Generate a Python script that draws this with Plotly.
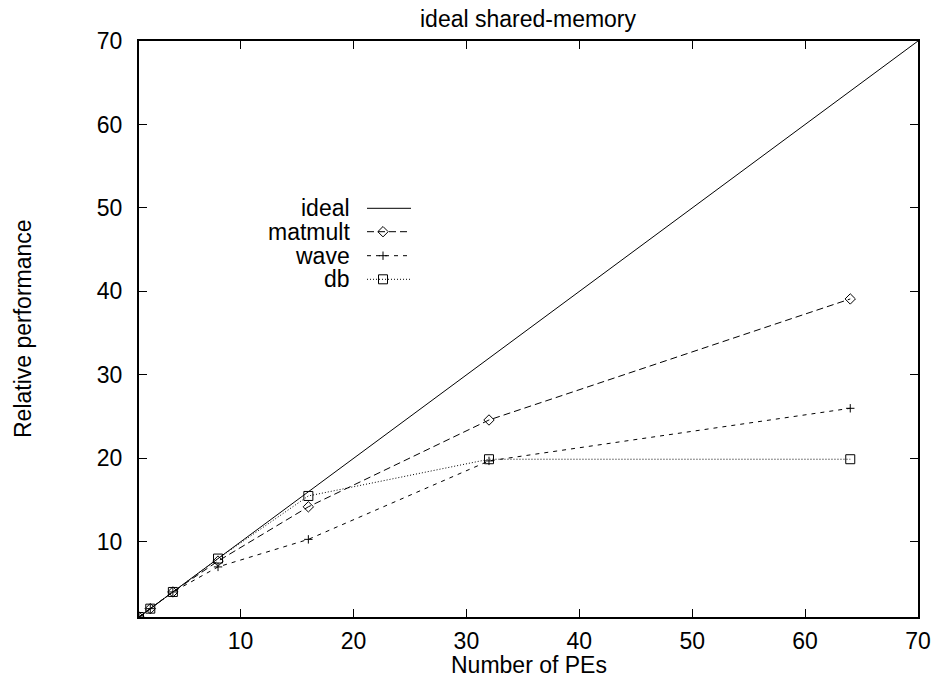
import plotly.graph_objects as go

# ---- data ----
pes = [1, 2, 4, 8, 16, 32, 64]
ideal_x = [1, 70]
ideal_y = [1, 70]
matmult = [1, 2, 4, 7.7, 14.2, 24.6, 39.1]
wave = [1, 2, 4, 7.0, 10.3, 19.7, 26.0]
db = [1, 2, 4, 8.0, 15.5, 19.9, 19.9]
x_ticks = [10, 20, 30, 40, 50, 60, 70]
y_ticks = [10, 20, 30, 40, 50, 60, 70]
series_names = ["ideal", "matmult", "wave", "db"]

FONT = "Liberation Sans, Arial, Helvetica, sans-serif"
FS = 23
W, H = 934, 677
# plot area in page pixels
PX0, PX1, PY0, PY1 = 139, 918, 41, 617
L, T = PX0, PY0
R = W - PX1
B = H - PY1
PW, PH = PX1 - PX0, PY1 - PY0


def px_x(px):
    return (px - PX0) / PW


def px_y(py):
    return (PY1 - py) / PH


fig = go.Figure()

fig.add_trace(go.Scatter(x=ideal_x, y=ideal_y, mode="lines",
                         line=dict(color="black", width=1), name="ideal",
                         showlegend=False))
fig.add_trace(go.Scatter(x=pes, y=matmult, mode="lines+markers",
                         line=dict(color="black", width=1, dash="7px,4px"),
                         marker=dict(symbol="diamond-open", size=8, color="black",
                                     line=dict(width=1, color="black")),
                         name="matmult", showlegend=False))
fig.add_trace(go.Scatter(x=pes, y=wave, mode="lines+markers",
                         line=dict(color="black", width=1, dash="4px,5px"),
                         marker=dict(symbol="cross-thin-open", size=6, color="black",
                                     line=dict(width=1, color="black")),
                         name="wave", showlegend=False))
fig.add_trace(go.Scatter(x=pes, y=db, mode="lines+markers",
                         line=dict(color="black", width=1, dash="1px,2px"),
                         marker=dict(symbol="square-open", size=9, color="black",
                                     line=dict(width=1, color="black")),
                         name="db", showlegend=False))

# ---- manual gnuplot-style key (text left, sample right) ----
key_rows_px = [208.3, 231.7, 255.7, 279.3]
key_text_right = px_x(352)
sample_x0, sample_x1, sample_mark = px_x(367), px_x(411), px_x(383)
styles = [
    (None, "solid"),
    ("diamond-open", "7px,4px"),
    ("cross-thin-open", "4px,5px"),
    ("square-open", "1px,2px"),
]
sizes = [0, 8, 6, 9]
for name, ypx, (sym, dash), sz in zip(series_names, key_rows_px, styles, sizes):
    yy = px_y(ypx)
    fig.add_annotation(x=key_text_right, y=yy, xref="paper", yref="paper",
                       text=name, showarrow=False, xanchor="right", yanchor="middle",
                       font=dict(family=FONT, size=FS, color="black"))
    fig.add_trace(go.Scatter(x=[sample_x0, sample_x1], y=[yy, yy], mode="lines",
                             line=dict(color="black", width=1, dash=dash),
                             xaxis="x2", yaxis="y2", showlegend=False,
                             hoverinfo="skip"))
    if sym:
        fig.add_trace(go.Scatter(x=[sample_mark], y=[yy], mode="markers",
                                 marker=dict(symbol=sym, size=sz, color="black",
                                             line=dict(width=1, color="black")),
                                 xaxis="x2", yaxis="y2", showlegend=False,
                                 hoverinfo="skip"))

axis_common = dict(showgrid=False, zeroline=False, showline=True, linecolor="black",
                   linewidth=2, mirror="ticks", ticks="inside", ticklen=8,
                   tickwidth=1, tickcolor="black",
                   tickfont=dict(family=FONT, size=FS, color="black"))

fig.update_layout(
    width=W, height=H,
    margin=dict(l=L, r=R, t=T, b=B, autoexpand=False),
    paper_bgcolor="white", plot_bgcolor="white",
    showlegend=False,
    xaxis=dict(range=[1, 70], tickvals=x_ticks, ticklabelstandoff=2, **axis_common),
    yaxis=dict(range=[1, 70], tickvals=y_ticks, ticklabelstandoff=10, **axis_common),
    xaxis2=dict(range=[0, 1], overlaying="x", visible=False, domain=[0, 1]),
    yaxis2=dict(range=[0, 1], overlaying="y", visible=False, domain=[0, 1]),
)

fig.add_annotation(x=0.5, y=px_y(19), xref="paper", yref="paper",
                   text="ideal shared-memory", showarrow=False,
                   xanchor="center", yanchor="middle",
                   font=dict(family=FONT, size=FS, color="black"))
fig.add_annotation(x=0.5, y=px_y(665), xref="paper", yref="paper",
                   text="Number of PEs", showarrow=False,
                   xanchor="center", yanchor="middle",
                   font=dict(family=FONT, size=FS, color="black"))
fig.add_annotation(x=px_x(23), y=0.5, xref="paper", yref="paper",
                   text="Relative performance", showarrow=False, textangle=-90,
                   xanchor="center", yanchor="middle",
                   font=dict(family=FONT, size=FS, color="black"))

fig.write_html("out.html",
               config={"displayModeBar": False, "staticPlot": True},
               post_script="document.body.style.margin='0px';"
                           "document.body.style.overflow='hidden';")
